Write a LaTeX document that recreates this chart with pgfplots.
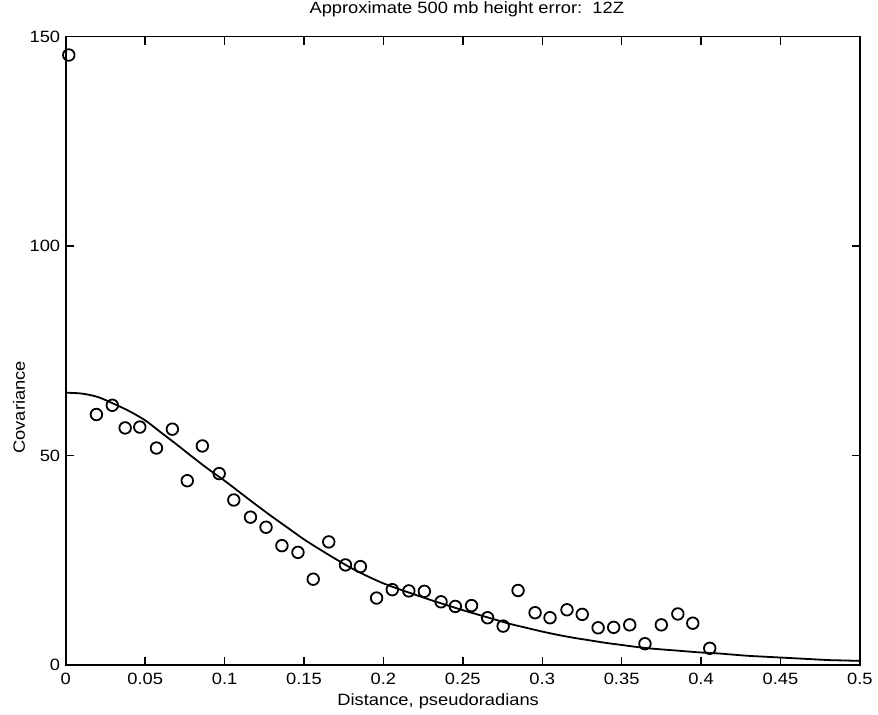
\documentclass[border=0pt]{standalone}
\usepackage{fontspec}
\setmainfont{Liberation Sans}[FakeStretch=1.12]
\usepackage{pgfplots}
\pgfplotsset{compat=1.18}
\begin{document}
\fontsize{16.4}{19}\selectfont
\begin{tikzpicture}
\begin{axis}[
  name=ax,
  scale only axis,
  width=796.7pt, height=630.6pt,
  xmin=0, xmax=0.5, ymin=0, ymax=150,
  xtick={0,0.05,0.1,0.15,0.2,0.25,0.3,0.35,0.4,0.45,0.5},
  xticklabels={0,0.05,0.1,0.15,0.2,0.25,0.3,0.35,0.4,0.45,0.5},
  ytick={0,50,100,150},
  tick align=inside,
  tick pos=both,
  major tick length=8pt,
  tick style={line width=1.4pt, black},
  axis line style={line width=1.8pt},
  /pgf/number format/assume math mode=true,
  font=\fontsize{16.4}{19}\selectfont,
  title={Approximate 500 mb height error:\ \ 12Z},
  title style={at={(axis description cs:0.505,1.034)}, anchor=center, inner sep=0pt},
  xlabel={Distance, pseudoradians},
  xlabel style={at={(axis description cs:0.469,-0.057)}, anchor=center, inner sep=0pt},
  ylabel={Covariance},
  ylabel style={at={(axis description cs:-0.059,0.41)}, anchor=center, rotate=0, inner sep=0pt},
  xticklabel style={yshift=-2pt},
  clip=false,
]
\addplot[black, line width=1.8pt, smooth] coordinates {
(0,65.0) (0.01,64.8) (0.02,64.0) (0.03,62.4) (0.04,60.6) (0.05,58.4)
(0.06,55.5) (0.07,52.6) (0.08,49.6) (0.09,46.7) (0.10,44.0) (0.11,41.1)
(0.12,38.2) (0.13,35.4) (0.14,32.7) (0.15,30.0) (0.16,27.6) (0.17,25.3)
(0.18,23.1) (0.19,21.2) (0.20,19.5) (0.21,18.1) (0.22,16.8) (0.23,15.5)
(0.24,14.3) (0.25,13.1) (0.26,12.0) (0.27,10.9) (0.28,9.8) (0.29,8.9)
(0.30,8.0) (0.31,7.2) (0.32,6.5) (0.33,5.9) (0.34,5.3) (0.35,4.8)
(0.36,4.3) (0.37,3.9) (0.38,3.6) (0.39,3.3) (0.40,3.0) (0.41,2.8)
(0.42,2.5) (0.43,2.2) (0.44,2.0) (0.45,1.8) (0.46,1.6) (0.47,1.4)
(0.48,1.2) (0.49,1.1) (0.50,1.0)
};
\addplot[only marks, mark=o, mark size=5.8pt, black, line width=1.8pt] coordinates {
(0.0019,145.6) (0.0193,59.8) (0.0293,62.0) (0.0374,56.6) (0.0466,56.8)
(0.0571,51.8) (0.0671,56.3) (0.0765,44.0) (0.0860,52.3) (0.0966,45.7)
(0.1058,39.4) (0.1163,35.3) (0.1261,32.9) (0.1361,28.5) (0.1462,26.9)
(0.1558,20.5) (0.1656,29.4) (0.1761,23.9) (0.1855,23.5) (0.1957,16.0)
(0.2056,18.0) (0.2160,17.7) (0.2258,17.6) (0.2363,15.1) (0.2453,14.0)
(0.2555,14.2) (0.2656,11.3) (0.2754,9.3) (0.2848,17.8) (0.2955,12.5)
(0.3049,11.3) (0.3156,13.2) (0.3252,12.1) (0.3352,8.9) (0.3450,9.0)
(0.3551,9.6) (0.3647,5.1) (0.3750,9.6) (0.3854,12.2) (0.3948,10.0)
(0.4055,4.0)
};
\end{axis}
\path ([shift={(-66pt,-49.7pt)}]ax.south west) rectangle ([shift={(15.3pt,36.7pt)}]ax.north east);
\end{tikzpicture}
\end{document}
